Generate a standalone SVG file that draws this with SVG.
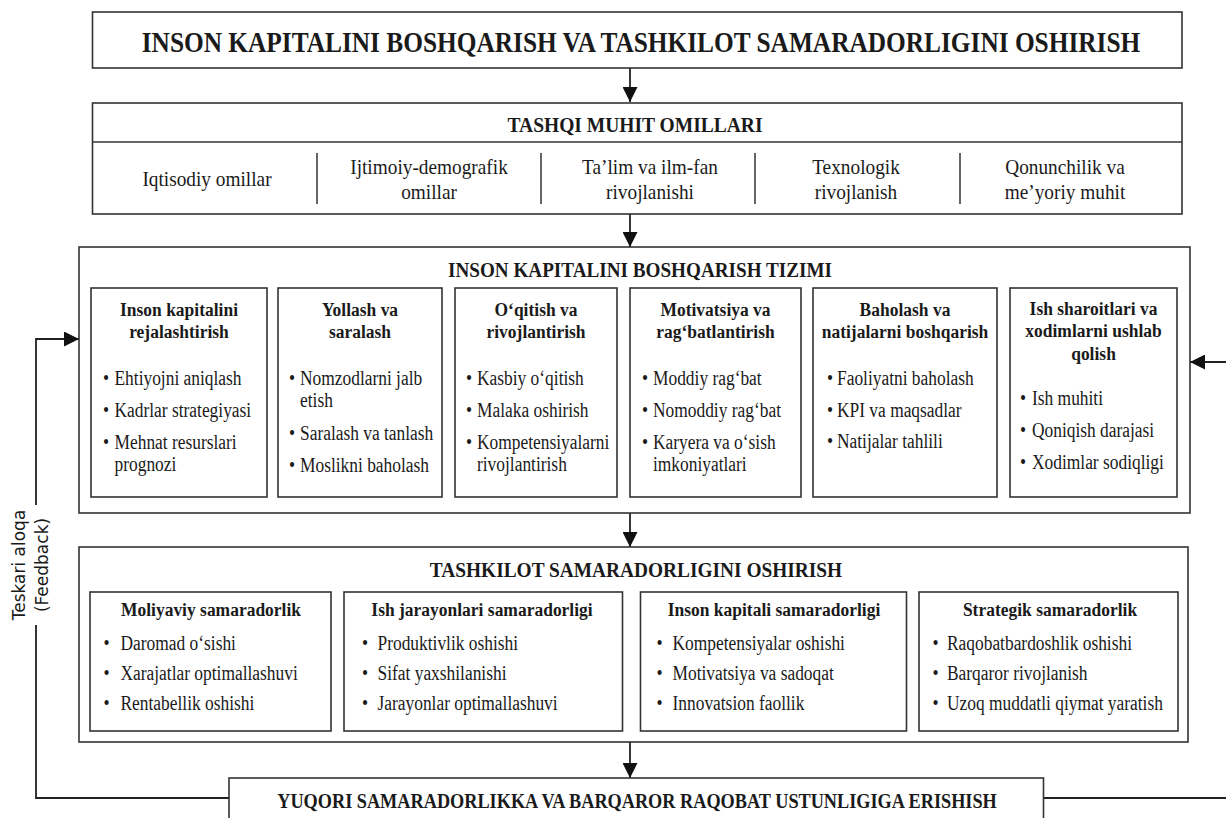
<svg xmlns="http://www.w3.org/2000/svg" width="1226" height="818" viewBox="0 0 1226 818">
<defs>
<style>
.bx{fill:#fff;stroke:#333;stroke-width:1.6}
.ln{fill:none;stroke:#222;stroke-width:1.8}
.dv{fill:none;stroke:#333;stroke-width:1.5}
.t{font-family:"Liberation Serif","Times New Roman",serif;fill:#1a1a1a}
.hb{font-weight:bold}
.m{text-anchor:middle}
.r20{font-size:20px}
.r21{font-size:21px}
.b19{font-size:19px;font-weight:bold}
.fb{font-family:"DejaVu Sans","Liberation Sans",sans-serif;font-size:17px;fill:#1a1a1a;text-anchor:middle}
</style>
<marker id="ah" viewBox="0 0 15 15" refX="15" refY="7.5" markerWidth="15" markerHeight="15" markerUnits="userSpaceOnUse" orient="auto">
<path d="M0,0 L15,7.5 L0,15 Z" fill="#111"/>
</marker>
</defs>
<rect x="0" y="0" width="1226" height="818" fill="#fff"/>

<g id="connectors">
<line class="ln" x1="630" y1="68" x2="630" y2="102" marker-end="url(#ah)"/>
<line class="ln" x1="630" y1="214" x2="630" y2="247" marker-end="url(#ah)"/>
<line class="ln" x1="630" y1="513" x2="630" y2="547" marker-end="url(#ah)"/>
<line class="ln" x1="630" y1="742" x2="630" y2="778" marker-end="url(#ah)"/>
<polyline class="ln" points="229,798 36,798 36,625"/>
<polyline class="ln" points="36,505 36,339 79,339" marker-end="url(#ah)"/>
<line class="ln" x1="1043.5" y1="798" x2="1226" y2="798"/>
<line class="ln" x1="1226" y1="362" x2="1190" y2="362" marker-end="url(#ah)"/>
</g>

<g id="feedback-label">
<text class="fb" transform="translate(25,565) rotate(-90)">Teskari aloqa</text>
<text class="fb" transform="translate(48,565) rotate(-90)">(Feedback)</text>
</g>

<g id="title">
<rect class="bx" x="92.5" y="12" width="1089.5" height="56"/>
<text class="t hb m" font-size="30" transform="translate(641,52) scale(0.845 1)">INSON KAPITALINI BOSHQARISH VA TASHKILOT SAMARADORLIGINI OSHIRISH</text>
</g>

<g id="tashqi-muhit">
<rect class="bx" x="92.5" y="103" width="1089.5" height="111"/>
<line class="dv" x1="92.5" y1="142" x2="1182" y2="142"/>
<text class="t hb m" font-size="20.5" transform="translate(635,132) scale(0.952 1)">TASHQI MUHIT OMILLARI</text>
<line class="dv" x1="317" y1="153" x2="317" y2="204"/>
<line class="dv" x1="541" y1="153" x2="541" y2="204"/>
<line class="dv" x1="755" y1="153" x2="755" y2="204"/>
<line class="dv" x1="960" y1="153" x2="960" y2="204"/>
<text class="t r21 m" transform="translate(207,186) scale(0.92 1)">Iqtisodiy omillar</text>
<text class="t r21 m" transform="translate(429,174) scale(0.92 1)"><tspan x="0" y="0">Ijtimoiy-demografik</tspan><tspan x="0" y="25">omillar</tspan></text>
<text class="t r21 m" transform="translate(650,174) scale(0.92 1)"><tspan x="0" y="0">Ta’lim va ilm-fan</tspan><tspan x="0" y="25">rivojlanishi</tspan></text>
<text class="t r21 m" transform="translate(856,174) scale(0.92 1)"><tspan x="0" y="0">Texnologik</tspan><tspan x="0" y="25">rivojlanish</tspan></text>
<text class="t r21 m" transform="translate(1065,174) scale(0.92 1)"><tspan x="0" y="0">Qonunchilik va</tspan><tspan x="0" y="25">me’yoriy muhit</tspan></text>
</g>

<g id="ikb-tizimi">
<rect class="bx" x="79" y="247" width="1111" height="266"/>
<text class="t hb m" font-size="20.5" transform="translate(640,277) scale(0.935 1)">INSON KAPITALINI BOSHQARISH TIZIMI</text>
</g>

<g id="rejalashtirish">
<rect class="bx" x="91" y="288" width="176" height="209"/>
<text class="t b19 m" transform="translate(179,316) scale(0.92 1)"><tspan x="0" y="0">Inson kapitalini</tspan><tspan x="0" y="22.5">rejalashtirish</tspan></text>
<text class="t r20" transform="translate(103,0) scale(0.87 1)"><tspan x="0" y="385">•</tspan><tspan x="0" y="417">•</tspan><tspan x="0" y="449">•</tspan></text>
<text class="t r20" transform="translate(114.5,0) scale(0.87 1)"><tspan x="0" y="385">Ehtiyojni aniqlash</tspan><tspan x="0" y="417">Kadrlar strategiyasi</tspan><tspan x="0" y="449">Mehnat resurslari</tspan><tspan x="0" y="471.5">prognozi</tspan></text>
</g>

<g id="yollash">
<rect class="bx" x="278" y="288" width="164" height="209"/>
<text class="t b19 m" transform="translate(360,316) scale(0.92 1)"><tspan x="0" y="0">Yollash va</tspan><tspan x="0" y="22.5">saralash</tspan></text>
<text class="t r20" transform="translate(289,0) scale(0.87 1)"><tspan x="0" y="385">•</tspan><tspan x="0" y="440">•</tspan><tspan x="0" y="472">•</tspan></text>
<text class="t r20" transform="translate(300,0) scale(0.87 1)"><tspan x="0" y="385">Nomzodlarni jalb</tspan><tspan x="0" y="407.5">etish</tspan><tspan x="0" y="440">Saralash va tanlash</tspan><tspan x="0" y="472">Moslikni baholash</tspan></text>
</g>

<g id="oqitish">
<rect class="bx" x="455" y="288" width="162" height="209"/>
<text class="t b19 m" transform="translate(536,316) scale(0.92 1)"><tspan x="0" y="0">O‘qitish va</tspan><tspan x="0" y="22.5">rivojlantirish</tspan></text>
<text class="t r20" transform="translate(466,0) scale(0.87 1)"><tspan x="0" y="385">•</tspan><tspan x="0" y="417">•</tspan><tspan x="0" y="449">•</tspan></text>
<text class="t r20" transform="translate(477,0) scale(0.87 1)"><tspan x="0" y="385">Kasbiy o‘qitish</tspan><tspan x="0" y="417">Malaka oshirish</tspan><tspan x="0" y="449">Kompetensiyalarni</tspan><tspan x="0" y="471.5">rivojlantirish</tspan></text>
</g>

<g id="motivatsiya">
<rect class="bx" x="630" y="288" width="171" height="209"/>
<text class="t b19 m" transform="translate(715.5,316) scale(0.92 1)"><tspan x="0" y="0">Motivatsiya va</tspan><tspan x="0" y="22.5">rag‘batlantirish</tspan></text>
<text class="t r20" transform="translate(642,0) scale(0.87 1)"><tspan x="0" y="385">•</tspan><tspan x="0" y="417">•</tspan><tspan x="0" y="449">•</tspan></text>
<text class="t r20" transform="translate(653,0) scale(0.87 1)"><tspan x="0" y="385">Moddiy rag‘bat</tspan><tspan x="0" y="417">Nomoddiy rag‘bat</tspan><tspan x="0" y="449">Karyera va o‘sish</tspan><tspan x="0" y="471.5">imkoniyatlari</tspan></text>
</g>

<g id="baholash">
<rect class="bx" x="813" y="288" width="184" height="209"/>
<text class="t b19 m" transform="translate(905,316) scale(0.92 1)"><tspan x="0" y="0">Baholash va</tspan><tspan x="0" y="22.5">natijalarni boshqarish</tspan></text>
<text class="t r20" transform="translate(827,0) scale(0.87 1)"><tspan x="0" y="385">•</tspan><tspan x="0" y="417">•</tspan><tspan x="0" y="448">•</tspan></text>
<text class="t r20" transform="translate(837,0) scale(0.87 1)"><tspan x="0" y="385">Faoliyatni baholash</tspan><tspan x="0" y="417">KPI va maqsadlar</tspan><tspan x="0" y="448">Natijalar tahlili</tspan></text>
</g>

<g id="ish-sharoitlari">
<rect class="bx" x="1010" y="288" width="167" height="209"/>
<text class="t b19 m" transform="translate(1093.5,315) scale(0.92 1)"><tspan x="0" y="0">Ish sharoitlari va</tspan><tspan x="0" y="22.5">xodimlarni ushlab</tspan><tspan x="0" y="45">qolish</tspan></text>
<text class="t r20" transform="translate(1020,0) scale(0.87 1)"><tspan x="0" y="405">•</tspan><tspan x="0" y="437">•</tspan><tspan x="0" y="469">•</tspan></text>
<text class="t r20" transform="translate(1032,0) scale(0.87 1)"><tspan x="0" y="405">Ish muhiti</tspan><tspan x="0" y="437">Qoniqish darajasi</tspan><tspan x="0" y="469">Xodimlar sodiqligi</tspan></text>
</g>

<g id="tashkilot-samaradorligi">
<rect class="bx" x="79" y="547" width="1109" height="195"/>
<text class="t hb m" font-size="22" transform="translate(636,577) scale(0.88 1)">TASHKILOT SAMARADORLIGINI OSHIRISH</text>
</g>

<g id="moliyaviy">
<rect class="bx" x="90" y="592" width="241" height="139"/>
<text class="t b19 m" transform="translate(211,616) scale(0.92 1)">Moliyaviy samaradorlik</text>
<text class="t r20" transform="translate(103.5,0) scale(0.87 1)"><tspan x="0" y="650">•</tspan><tspan x="0" y="680">•</tspan><tspan x="0" y="710">•</tspan></text>
<text class="t r20" transform="translate(120.5,0) scale(0.87 1)"><tspan x="0" y="650">Daromad o‘sishi</tspan><tspan x="0" y="680">Xarajatlar optimallashuvi</tspan><tspan x="0" y="710">Rentabellik oshishi</tspan></text>
</g>

<g id="ish-jarayonlari">
<rect class="bx" x="344" y="592" width="278.5" height="139"/>
<text class="t b19 m" transform="translate(482,616) scale(0.92 1)">Ish jarayonlari samaradorligi</text>
<text class="t r20" transform="translate(362,0) scale(0.87 1)"><tspan x="0" y="650">•</tspan><tspan x="0" y="680">•</tspan><tspan x="0" y="710">•</tspan></text>
<text class="t r20" transform="translate(377.5,0) scale(0.87 1)"><tspan x="0" y="650">Produktivlik oshishi</tspan><tspan x="0" y="680">Sifat yaxshilanishi</tspan><tspan x="0" y="710">Jarayonlar optimallashuvi</tspan></text>
</g>

<g id="inson-kapitali">
<rect class="bx" x="640.5" y="592" width="266" height="139"/>
<text class="t b19 m" transform="translate(774,616) scale(0.92 1)">Inson kapitali samaradorligi</text>
<text class="t r20" transform="translate(656.5,0) scale(0.87 1)"><tspan x="0" y="650">•</tspan><tspan x="0" y="680">•</tspan><tspan x="0" y="710">•</tspan></text>
<text class="t r20" transform="translate(672.5,0) scale(0.87 1)"><tspan x="0" y="650">Kompetensiyalar oshishi</tspan><tspan x="0" y="680">Motivatsiya va sadoqat</tspan><tspan x="0" y="710">Innovatsion faollik</tspan></text>
</g>

<g id="strategik">
<rect class="bx" x="919" y="592" width="259" height="139"/>
<text class="t b19 m" transform="translate(1050,616) scale(0.92 1)">Strategik samaradorlik</text>
<text class="t r20" transform="translate(932.5,0) scale(0.87 1)"><tspan x="0" y="650">•</tspan><tspan x="0" y="680">•</tspan><tspan x="0" y="710">•</tspan></text>
<text class="t r20" transform="translate(947,0) scale(0.87 1)"><tspan x="0" y="650">Raqobatbardoshlik oshishi</tspan><tspan x="0" y="680">Barqaror rivojlanish</tspan><tspan x="0" y="710">Uzoq muddatli qiymat yaratish</tspan></text>
</g>

<g id="natija">
<rect class="bx" x="229" y="778" width="814.5" height="50"/>
<text class="t hb m" font-size="22" transform="translate(637,808) scale(0.83 1)">YUQORI SAMARADORLIKKA VA BARQAROR RAQOBAT USTUNLIGIGA ERISHISH</text>
</g>
</svg>
